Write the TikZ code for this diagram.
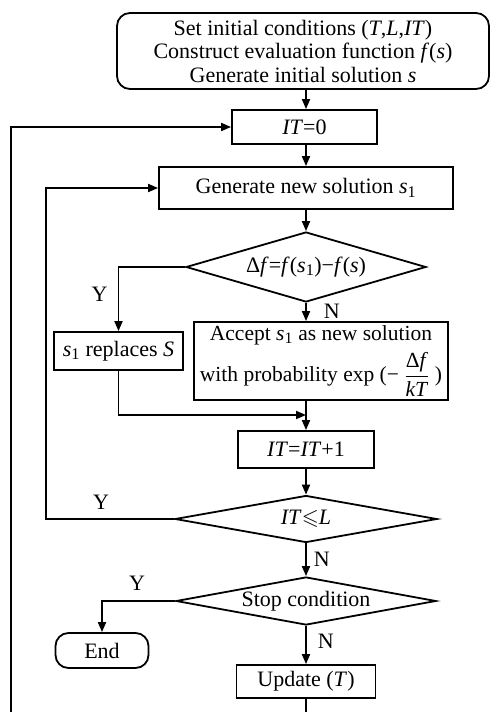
\documentclass[tikz,border=0pt]{standalone}
\usepackage{amsmath}
\usepackage{mathptmx}
\usepackage{amssymb}
\usepackage{fontspec}
\setmainfont{Liberation Serif}
\usetikzlibrary{shapes.geometric,arrows.meta,positioning}

\begin{document}
\begin{tikzpicture}[x=1pt,y=-1pt,line width=1.8pt,
                font=\fontsize{22}{23.5}\selectfont,
                procbox/.style={draw,rectangle,inner sep=0pt,align=center},
                termbox/.style={procbox,rounded corners=13pt},
                decision/.style={draw,diamond,inner sep=0pt},
                flow/.style={-{Triangle[length=10pt,width=8pt]}},
                yn/.style={inner sep=1pt}]
                \useasboundingbox (0,0) rectangle (490,712);
                % boxes
                \node[termbox,minimum width=372pt,minimum height=76pt] (init) at (303,51)
                    {Set initial conditions (\textit{T},\textit{L},\textit{IT})\\Construct evaluation function \textit{f}(\textit{s})\\Generate initial solution \textit{s}};
                \node[procbox,minimum width=145pt,minimum height=34pt] (it0) at (304.5,127) {\textit{IT}=0};
                \node[procbox,minimum width=294pt,minimum height=42pt] (gen) at (306,188) {Generate new solution \textit{s}\textsubscript{1}};
                \node[decision,minimum width=240pt,minimum height=70pt,aspect=3.4] (delta) at (306,267)
                    {Δ\textit{f}=\textit{f}(\textit{s}\textsubscript{1})−\textit{f}(\textit{s})};
                \node[procbox,minimum width=129pt,minimum height=38pt] (repl) at (118.5,351) {\textit{s}\textsubscript{1} replaces \textit{S}};
                \node[procbox,minimum width=254pt,minimum height=78pt,font=\fontsize{21.5}{23.5}\selectfont] (acc) at (321,361)
                    {Accept \textit{s}\textsubscript{1} as new solution\\[6pt]with probability exp (− $\dfrac{\text{Δ\textit{f}}}{\text{\textit{kT}}}$ )};
                \node[procbox,minimum width=136pt,minimum height=37pt] (inc) at (306,449.5) {\textit{IT}=\textit{IT}+1};
                \node[decision,minimum width=262pt,minimum height=47pt,aspect=5.5] (cmp) at (306,519) {\textit{IT}$\leqslant$\textit{L}};
                \node[decision,minimum width=260pt,minimum height=48pt,aspect=5.4] (stop) at (306,601) {Stop condition};
                \node[termbox,minimum width=93pt,minimum height=35pt] (endn) at (102,650.5) {End};
                \node[procbox,minimum width=139pt,minimum height=33pt] (upd) at (306,681.5) {Update (\textit{T})};
                % bends
                \coordinate (join) at (306,415);
                \coordinate (loopA) at (46,519);
                \coordinate (loopB) at (11,740);
                % connectors
                \draw[flow] (init.south -| gen.north) -- (it0.north -| gen.north);
                \draw[flow] (it0.south -| gen.north) -- (gen.north);
                \draw[flow] (gen.south) -- (delta.north);
                \draw[flow] (delta.west) -| node[yn,pos=0.71,left=9pt] {Y} (repl.north);
                \draw[flow] (delta.south) -- node[yn,pos=0.45,right=16pt] {N} (delta.south |- acc.north);
                \draw[flow] (acc.south -| inc.north) -- (inc.north);
                \draw[flow] (repl.south) |- (join);
                \draw[flow] (inc.south) -- (cmp.north);
                \draw[flow] (cmp.west) -- node[yn,pos=0.57,above=8pt] {Y} (loopA) |- (gen.west);
                \draw[flow] (cmp.south) -- node[yn,right=6pt] {N} (stop.north);
                \draw[flow] (stop.west) -| node[yn,pos=0.26,above=9pt] {Y} (endn.north);
                \draw[flow] (stop.south) -- node[yn,pos=0.4,right=10pt] {N} (upd.north);
                \draw[flow] (upd.south) |- (loopB) |- (it0.west);
            \end{tikzpicture}
\end{document}
